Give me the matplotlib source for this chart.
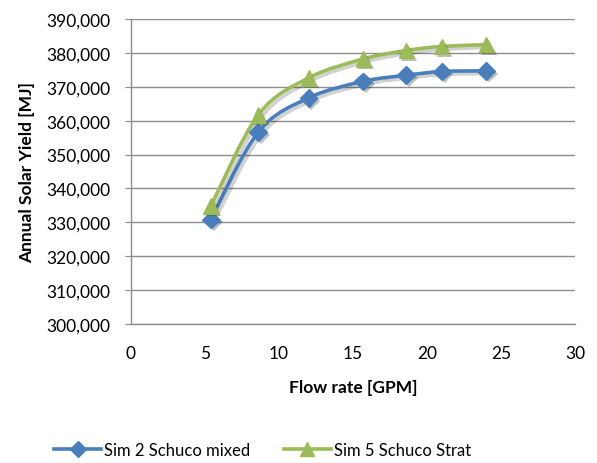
import matplotlib
matplotlib.use("Agg")
import matplotlib.pyplot as plt
import matplotlib.patheffects as pe
from matplotlib.path import Path
from matplotlib.patches import PathPatch
from matplotlib.lines import Line2D
from matplotlib.ticker import FuncFormatter

plt.rcParams["font.family"] = ["Lato", "DejaVu Sans"]

flow_rate = [5.4, 8.6, 12.0, 15.7, 18.6, 21.0, 24.0]
sim2_mixed = [330800, 356600, 366700, 371600, 373400, 374500, 374700]
sim5_strat = [334800, 361700, 372600, 378200, 380700, 381900, 382400]

x_ticks = [0, 5, 10, 15, 20, 25, 30]
y_ticks = list(range(300000, 390001, 10000))

BLUE = "#4A7EBB"
GREEN = "#9BBB59"


def smooth_path(xs, ys, tension=1 / 6):
    # Excel-style smoothed line: cubic Bezier segments through each point
    verts = [(xs[0], ys[0])]
    codes = [Path.MOVETO]
    n = len(xs)
    for i in range(n - 1):
        x0, y0 = (xs[i - 1], ys[i - 1]) if i > 0 else (xs[i], ys[i])
        x1, y1 = xs[i], ys[i]
        x2, y2 = xs[i + 1], ys[i + 1]
        x3, y3 = (xs[i + 2], ys[i + 2]) if i + 2 < n else (x2, y2)
        c1 = (x1 + (x2 - x0) * tension, y1 + (y2 - y0) * tension)
        c2 = (x2 - (x3 - x1) * tension, y2 - (y3 - y1) * tension)
        verts += [c1, c2, (x2, y2)]
        codes += [Path.CURVE4] * 3
    return Path(verts, codes)


fig = plt.figure(figsize=(5.97, 4.64), dpi=100)
ax = fig.add_axes([0.2194, 0.2996, 0.7437, 0.6573])

shadow = [pe.SimpleLineShadow(offset=(2, -2), alpha=0.18, shadow_color="black"), pe.Normal()]
mshadow = [pe.SimplePatchShadow(offset=(2, -2), alpha=0.25, shadow_rgbFace="black"), pe.Normal()]

series = [
    (sim2_mixed, BLUE, "D", 9, "Sim 2 Schuco mixed"),
    (sim5_strat, GREEN, "^", 11, "Sim 5 Schuco Strat"),
]
handles = []
for ys, color, marker, ms, label in series:
    patch = PathPatch(smooth_path(flow_rate, ys), facecolor="none", edgecolor=color,
                      lw=2.6, zorder=3, path_effects=shadow)
    ax.add_patch(patch)
    ax.plot(flow_rate, ys, linestyle="none", marker=marker, ms=ms, color=color,
            mec=color, zorder=4, path_effects=mshadow)
    handles.append(Line2D([], [], color=color, lw=2.6, marker=marker, ms=ms - 1, label=label))

ax.set_xlim(0, 30)
ax.set_ylim(300000, 390000)
ax.set_xticks(x_ticks)
ax.set_yticks(y_ticks)
ax.yaxis.set_major_formatter(FuncFormatter(lambda v, p: f"{int(v):,}"))
ax.grid(axis="y", color="#8C8C8C", lw=1.0)
ax.set_axisbelow(True)

for s in ["top", "right"]:
    ax.spines[s].set_visible(False)
for s in ["left", "bottom"]:
    ax.spines[s].set_color("#8C8C8C")
    ax.spines[s].set_linewidth(1.0)
ax.tick_params(axis="y", length=4, color="#8C8C8C", labelsize=12.5, pad=11)
ax.tick_params(axis="x", length=0, labelsize=12.5, pad=15)

ax.set_xlabel("Flow rate [GPM]", fontsize=12.5, fontweight="bold", labelpad=13)
ax.set_ylabel("Annual Solar Yield [MJ]", fontsize=12.5, fontweight="bold", labelpad=8)

fig.legend(handles=handles, loc="center", bbox_to_anchor=(0.44, 0.028), ncol=2,
           frameon=False, fontsize=12, handlelength=2.8, columnspacing=2.0,
           handletextpad=0.2)

fig.savefig("out.png", dpi=100)
